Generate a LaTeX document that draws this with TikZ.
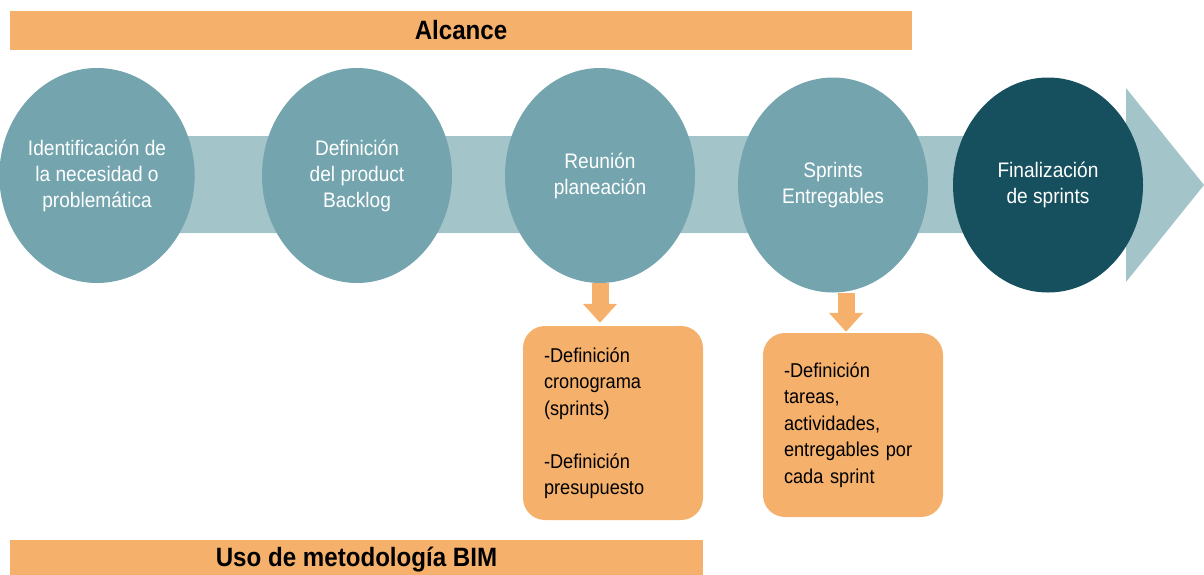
\documentclass[tikz,border=0pt]{standalone}
\usepackage{fontspec}
\setmainfont{Liberation Sans}[FakeStretch=0.91]
\usetikzlibrary{shapes.geometric,arrows.meta}
\definecolor{alcorange}{RGB}{245,176,108}
\definecolor{stepteal}{RGB}{116,165,175}
\definecolor{bandteal}{RGB}{163,196,201}
\definecolor{darkteal}{RGB}{22,79,93}
\tikzset{stage/.style={ellipse,fill=stepteal,text=white,
    minimum width=190pt,minimum height=215pt,inner sep=0pt,
    align=center,font=\fontsize{21}{26}\selectfont},
    bar/.style={fill=alcorange,minimum height=39pt,inner sep=0pt,
    font=\fontsize{26.5}{30}\selectfont\bfseries},
    notebox/.style={fill=alcorange,rounded corners=22pt,text width=138pt,
    inner xsep=21pt,align=left,font=\fontsize{20}{26.5}\selectfont}}

\begin{document}
\begin{tikzpicture}[x=1pt,y=-1pt]
        \useasboundingbox (0,0) rectangle (1204,574);
        % banda de fondo con punta
        \fill[bandteal] (97,136) -- (1126,136) -- (1126,88) -- (1204,185)
            -- (1126,282) -- (1126,233) -- (97,233) -- cycle;

        \node[bar,minimum width=902pt] (alcance) at (461,30.5) {Alcance};

        \node[stage] (ident)   at (97,175.5)  {Identificación de\\la necesidad o\\problemática};
        \node[stage] (backlog) at (357,175.5) {Definición\\del product\\Backlog};
        \node[stage] (reunion) at (600,175.5) {Reunión\\planeación};
        \node[stage] (sprints) at (833,185)   {Sprints\\Entregables};
        \node[stage,fill=darkteal] (final) at (1048,185) {Finalización\\de sprints};

        \node[notebox,minimum height=194pt] (cronog) at (613,423)
            {-Definición\\cronograma\\(sprints)\\[26.5pt]-Definición\\presupuesto};
        \node[notebox,minimum height=184pt] (tareas) at (853,425)
            {-Definición\\tareas,\\actividades,\\entregables por\\cada sprint};

        \node[bar,minimum width=693pt,minimum height=40pt] (bim) at (356.5,560)
            {Uso de metodología BIM};

        \path[alcorange,line width=17pt,-{Triangle[width=33pt,length=19pt]}]
        (reunion.south) edge[shorten >=3pt] (reunion.south |- cronog.north)
        ([xshift=13pt]sprints.south) edge[shorten >=1pt] ([xshift=13pt]sprints.south |- tareas.north);
\end{tikzpicture}
\end{document}
